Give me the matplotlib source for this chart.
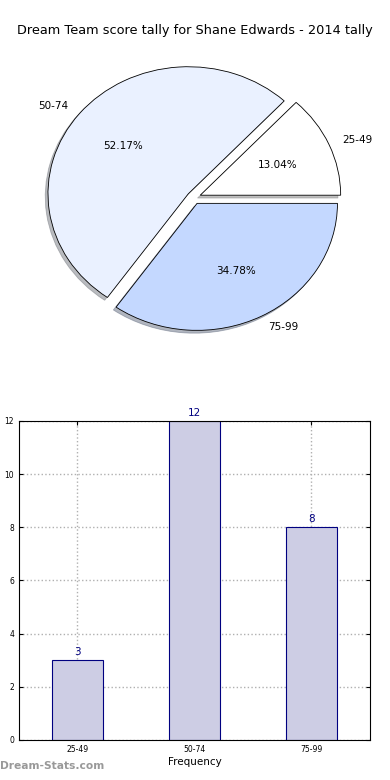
import matplotlib
matplotlib.use('Agg')
import matplotlib.pyplot as plt

title = 'Dream Team score tally for Shane Edwards - 2014 tally'
intervals = ['25-49', '50-74', '75-99']
counts = [3, 12, 8]
pie_colors = ['#ffffff', '#eaf1ff', '#c4d8ff']

fig = plt.figure(figsize=(3.9, 7.8), dpi=100)
fig.patch.set_facecolor('white')

# pie on top (not equal aspect, so it comes out a little squashed)
ax1 = fig.add_axes([0.047, 0.543, 0.9, 0.407])
wedges, texts, autotexts = ax1.pie(counts, labels=intervals, colors=pie_colors,
                                   explode=[0.05] * 3, autopct='%1.2f%%',
                                   shadow={'ox': -0.014, 'oy': -0.016, 'shade': 0.5},
                                   startangle=0,
                                   wedgeprops={'edgecolor': 'black', 'linewidth': 0.6},
                                   textprops={'fontsize': 7.5})
ax1.set_aspect('auto')
ax1.set_xlim(-1.25, 1.25)
ax1.set_ylim(-1.25, 1.25)
ax1.axis('off')
fig.text(0.5, 0.961, title, ha='center', va='center', fontsize=9.3)

# bar chart below
ax2 = fig.add_axes([0.0487, 0.0513, 0.9, 0.409])
x = range(len(intervals))
ax2.bar(x, counts, width=0.444, color='#cdcde4', edgecolor='#000080', linewidth=0.8, zorder=2)
for i, c in zip(x, counts):
    ax2.text(i, c + 0.12, str(c), ha='center', va='bottom', color='#000080', fontsize=7.5)
ax2.set_xlim(-0.5, 2.5)
ax2.set_ylim(0, 12)
ax2.set_xticks(list(x))
ax2.set_xticklabels(intervals)
ax2.set_yticks(range(0, 13, 2))
ax2.tick_params(labelsize=5.5, direction='in', length=3, top=True, right=True)
ax2.grid(True, linestyle=':', color='#b0b0b0', linewidth=1, zorder=0)
ax2.set_axisbelow(True)
ax2.set_xlabel('Frequency', fontsize=7.5, labelpad=2)
ax2.set_ylabel('Score Interval', fontsize=7.5)
ax2.yaxis.set_label_coords(-0.05, 0.5)

fig.text(0.0, 0.012, 'Dream-Stats.com', color='#999999', fontsize=7.7,
         fontweight='bold', ha='left', va='bottom')

fig.savefig('out.png', dpi=100)
